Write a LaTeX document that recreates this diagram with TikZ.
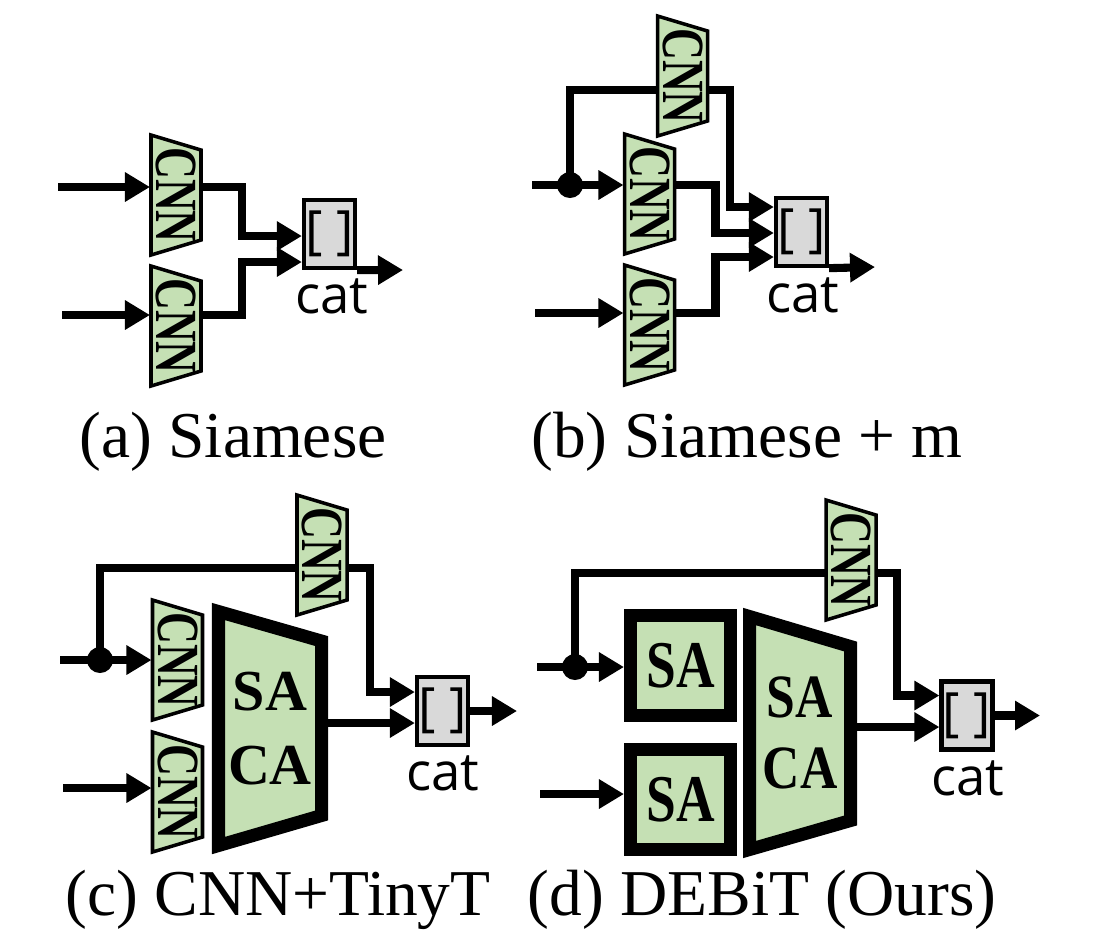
\documentclass[tikz,border=0pt]{standalone}
\usepackage{fontspec}
\setmainfont{Liberation Serif}
\setsansfont{Open Sans}
\usepackage{graphicx}
\usepackage{tikz}
\usetikzlibrary{arrows.meta, positioning, calc}
\usepackage{xcolor}
\definecolor{blockgreen}{RGB}{197,224,180}
\definecolor{catgray}{RGB}{217,217,217}

\tikzset{
  flow/.style={line width=2.3pt, -{Triangle[length=0.25cm,width=0.28cm]}},
  cnnbox/.style={draw, line width=1pt, fill=blockgreen},
  cnnlabel/.style={minimum width=0.52cm, minimum height=0.9cm, inner sep=0pt, outer sep=0pt, font=\fontsize{17}{17}\selectfont\bfseries},
  catbox/.style={draw, line width=1.2pt, fill=catgray, minimum width=0.51cm, minimum height=0.68cm, inner sep=0pt, font=\sffamily\fontsize{15}{15}\selectfont},
  catlabel/.style={anchor=base, inner sep=0pt, font=\sffamily\fontsize{15}{15}\selectfont},
  junction/.style={circle, fill=black, minimum size=0.26cm, inner sep=0pt},
  sabox/.style={draw, line width=3.7pt, fill=blockgreen, minimum size=1cm, inner sep=0pt, font=\fontsize{19}{19}\selectfont\bfseries},
  bigbox/.style={draw, line width=3.7pt, fill=blockgreen},
  ttlabel/.style={minimum height=1.8cm, inner sep=0pt, outer sep=0pt, align=center},
  subcap/.style={anchor=base, inner sep=0pt, font=\fontsize{18.6}{18.6}\selectfont},
}

% CNN trapezoid, name / centre x / centre y
\newcommand{\cnnblock}[3]{%
  \draw[cnnbox] (#2-25,#3-60) -- (#2+25,#3-45) -- (#2+25,#3+45) -- (#2-25,#3+60) -- cycle;
  \node[cnnlabel] (#1) at (#2,#3) {\rotatebox{-90}{\scalebox{0.74}[1]{CNN}}};}

\begin{document}
\begin{tikzpicture}[x=0.01cm, y=-0.01cm]
  \useasboundingbox (0,0) rectangle (1104,938);

  % (a) Siamese
  \cnnblock{a1}{176}{195}
  \cnnblock{a2}{176}{326}
  \node[catbox] (acat) at (329.5,234) {[ ]};
  \coordinate (ain1) at (58,187);
  \coordinate (ain2) at (62,315);
  \coordinate (aout) at (403,270);
  \draw[flow] (ain1) -- (ain1 -| a1.west);
  \draw[flow] (ain2) -- (ain2 -| a2.west);
  \draw[flow] (a1.east |- ain1) -- ++(40,0) |- ($(acat.west)+(0,2)$);
  \draw[flow] (a2.east |- ain2) -- ++(40,0) |- ($(acat.west)+(0,28)$);
  \draw[flow] (acat.south east) -- (aout);
  \node[catlabel] (acatlbl) at (332,313) {cat};
  \node[subcap] (acap) at (233,457) {(a) Siamese};

  % (b) Siamese + m
  \node[catbox] (bcat) at (801.5,232) {[ ]};
  \coordinate (bin1) at (532,185);
  \coordinate (bin2) at (535,313);
  \coordinate (bout) at (875,267);
  \node[junction] (bdot) at (570,185) {};
  \draw[flow] (bdot.center) |- (730,90) |- ($(bcat.west)+(0,-25)$);
  \cnnblock{b3}{682.5}{76}
  \cnnblock{b1}{649.5}{194}
  \cnnblock{b2}{649.5}{325}
  \draw[flow] (bin1) -- (bin1 -| b1.west);
  \draw[flow] (bin2) -- (bin2 -| b2.west);
  \draw[flow] (b1.east |- bin1) -- ++(40,0) |- ($(bcat.west)+(0,1)$);
  \draw[flow] (b2.east |- bin2) -- ++(40,0) |- ($(bcat.west)+(0,25)$);
  \draw[flow] (bcat.south east) -- (bout);
  \node[catlabel] (bcatlbl) at (803,312) {cat};
  \node[subcap] (bcap) at (747,457) {(b) Siamese + m};

  % (c) CNN+TinyT
  \node[catbox] (ccat) at (442.5,711) {[ ]};
  \coordinate (cin1) at (60,660);
  \coordinate (cin2) at (63,788);
  \coordinate (cout) at (517,711);
  \coordinate (ccin2) at ($(ccat.west)+(0,12)$);
  \node[junction] (cdot) at (100,660) {};
  \draw[flow] (cdot.center) |- (370,568) |- ($(ccat.west)+(0,-19)$);
  \cnnblock{c3}{322}{555}
  \cnnblock{c1}{177.5}{660}
  \cnnblock{c2}{177.5}{792}
  \draw[bigbox] (218.5,611.5) -- (321.5,641) -- (321.5,815.5) -- (218.5,845.5) -- cycle;
  \node[ttlabel, minimum width=1.16cm, font=\fontsize{16.5}{21}\selectfont\bfseries] (ctt) at (270,728.5) {SA\\CA};
  \draw[flow] (cin1) -- (cin1 -| c1.west);
  \draw[flow] (cin2) -- (cin2 -| c2.west);
  \draw[flow] (ctt.east |- ccin2) -- (ccin2);
  \draw[flow] (ccat.east) -- (cout);
  \node[catlabel] (ccatlbl) at (443,790) {cat};
  \node[subcap] (ccap) at (278,915) {(c) CNN+TinyT};

  % (d) DEBiT (Ours)
  \node[catbox] (dcat) at (967,715.5) {[ ]};
  \coordinate (din1) at (537,667);
  \coordinate (din2) at (540,794);
  \coordinate (dout) at (1040,715.5);
  \coordinate (dcin2) at ($(dcat.west)+(0,11.5)$);
  \node[junction] (ddot) at (575,667) {};
  \draw[flow] (ddot.center) |- (897,573) |- ($(dcat.west)+(0,-20)$);
  \cnnblock{d3}{851}{560}
  \node[sabox] (dsa1) at (680.5,665.5) {\scalebox{0.8}[1]{SA}};
  \node[sabox] (dsa2) at (680.5,799.5) {\scalebox{0.8}[1]{SA}};
  \draw[bigbox] (749.5,616.5) -- (850.5,646.5) -- (850.5,820.5) -- (749.5,849.5) -- cycle;
  \node[ttlabel, minimum width=1.14cm, font=\fontsize{17.5}{20}\selectfont\bfseries] (dtt) at (800,733) {\scalebox{0.84}[1]{SA}\\\scalebox{0.84}[1]{CA}};
  \draw[flow] (din1) -- (din1 -| dsa1.west);
  \draw[flow] (din2) -- (din2 -| dsa2.west);
  \draw[flow] (dtt.east |- dcin2) -- (dcin2);
  \draw[flow] (dcat.east) -- (dout);
  \node[catlabel] (dcatlbl) at (968,795) {cat};
  \node[subcap] (dcap) at (762,915) {(d) DEBiT (Ours)};
\end{tikzpicture}
\end{document}
